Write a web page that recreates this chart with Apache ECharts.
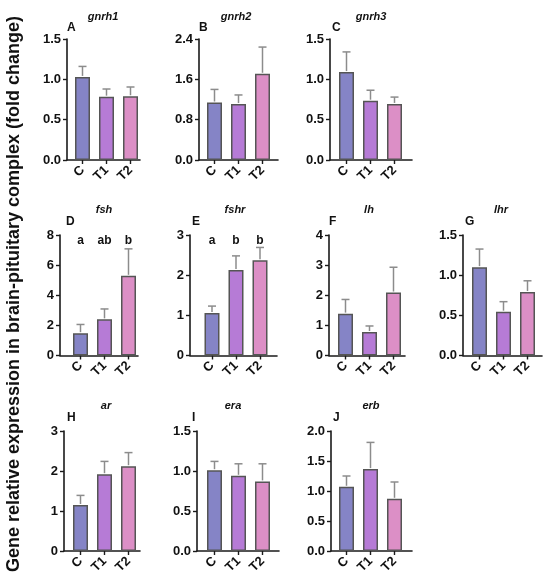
<!DOCTYPE html>
<html>
<head>
<meta charset="utf-8">
<style>
  html, body { margin: 0; padding: 0; background: #fff; }
  #main { width: 550px; height: 585px; }
</style>
<script src="https://cdn.jsdelivr.net/npm/echarts@6/dist/echarts.min.js"></script>
</head>
<body>
<div id="main"></div>
<script>
    // groups and genes
    var groups = ['C', 'T1', 'T2'];
    var genes = ['gnrh1', 'gnrh2', 'gnrh3', 'fsh', 'fshr', 'lh', 'lhr', 'ar', 'era', 'erb'];
    var panelLetters = ['A', 'B', 'C', 'D', 'E', 'F', 'G', 'H', 'I', 'J'];

    // mean fold change per group (C, T1, T2)
    var gnrh1Mean = [1.03, 0.785, 0.79];
    var gnrh2Mean = [1.14, 1.11, 1.71];
    var gnrh3Mean = [1.09, 0.735, 0.695];
    var fshMean = [1.48, 2.40, 5.29];
    var fshrMean = [1.06, 2.13, 2.37];
    var lhMean = [1.39, 0.78, 2.09];
    var lhrMean = [1.10, 0.545, 0.79];
    var arMean = [1.15, 1.92, 2.12];
    var eraMean = [1.01, 0.94, 0.87];
    var erbMean = [1.07, 1.365, 0.87];

    // upper error bar length (SEM)
    var gnrh1Sem = [0.13, 0.095, 0.115];
    var gnrh2Sem = [0.26, 0.18, 0.53];
    var gnrh3Sem = [0.25, 0.13, 0.085];
    var fshSem = [0.58, 0.69, 1.79];
    var fshrSem = [0.17, 0.35, 0.32];
    var lhSem = [0.47, 0.20, 0.84];
    var lhrSem = [0.225, 0.125, 0.14];
    var arSem = [0.24, 0.32, 0.34];
    var eraSem = [0.11, 0.15, 0.22];
    var erbSem = [0.18, 0.445, 0.28];

    // significance letters
    var fshSig = ['a', 'ab', 'b'];
    var fshrSig = ['a', 'b', 'b'];

    // y axis ticks
    var yMax = [1.5, 2.4, 1.5, 8, 3, 4, 1.5, 3, 1.5, 2.0];
    var yStep = [0.5, 0.8, 0.5, 2, 1, 1, 0.5, 1, 0.5, 0.5];
    var yDecimals = [1, 1, 1, 0, 0, 0, 1, 0, 1, 1];

    var means = [gnrh1Mean, gnrh2Mean, gnrh3Mean, fshMean, fshrMean, lhMean, lhrMean, arMean, eraMean, erbMean];
    var sems = [gnrh1Sem, gnrh2Sem, gnrh3Sem, fshSem, fshrSem, lhSem, lhrSem, arSem, eraSem, erbSem];
    var sigs = {3: fshSig, 4: fshrSig};

    // layout (px)
    var BAND = 24;
    var axisX = [67, 199, 330, 60, 190, 329, 463, 64, 197, 331];
    var axisEnd = [140, 278, 412, 138, 277, 405, 542, 140, 279, 412];
    var firstCenter = [82.5, 214.5, 346.5, 80.5, 212, 345.5, 479.5, 80.5, 214.5, 346.5];
    var rowTop = [39, 39, 39, 235, 235, 235, 235, 431, 431, 431];
    var rowHeight = [121, 121, 121, 120.5, 120.5, 120.5, 120.5, 120, 120, 120];
    var titleX = [103, 236, 371, 104, 235, 369, 501, 106, 233, 371];
    var titleY = [17, 17, 17, 210, 210, 210, 210, 406, 406, 406];
    var letterX = [67, 199, 332, 66, 192, 329, 465, 67, 192, 333];
    var letterY = [28, 28, 28, 222, 222, 222, 222, 418, 418, 418];

    var colors = ['#8584c6', '#b67bd6', '#dc8fc6'];
    var FONT = '"Liberation Sans", Arial, sans-serif';
    var AXIS = '#1a1a1a';

    var grids = [], xAxes = [], yAxes = [], series = [], graphics = [];

    genes.forEach(function (gene, k) {
        var pad = (firstCenter[k] - axisX[k]) / BAND;
        var pos = groups.map(function (g, i) { return pad + i; });
        var dec = yDecimals[k];

        grids.push({
            left: axisX[k], top: rowTop[k],
            width: axisEnd[k] - axisX[k], height: rowHeight[k],
            containLabel: false, outerBoundsMode: 'none'
        });
        xAxes.push({
            type: 'value', gridIndex: k, min: 0, max: (axisEnd[k] - axisX[k]) / BAND,
            axisLine: {show: true, onZero: false, lineStyle: {color: AXIS, width: 1.6}},
            axisTick: {show: true, customValues: pos, length: 4, lineStyle: {color: AXIS, width: 1.4}},
            splitLine: {show: false},
            axisLabel: {
                customValues: pos, rotate: 45, margin: 8,
                color: '#111', fontFamily: FONT, fontWeight: 'bold', fontSize: 13,
                formatter: function (v) { return groups[Math.round(v - pad)]; }
            }
        });
        yAxes.push({
            type: 'value', gridIndex: k, min: 0, max: yMax[k], interval: yStep[k],
            axisLine: {show: true, lineStyle: {color: AXIS, width: 1.6}},
            axisTick: {show: true, length: 4, lineStyle: {color: AXIS, width: 1.4}},
            splitLine: {show: false},
            axisLabel: {
                margin: 6, color: '#111', fontFamily: FONT, fontWeight: 'bold', fontSize: 13,
                formatter: function (v) { return v.toFixed(dec); }
            }
        });

        series.push({
            type: 'bar', xAxisIndex: k, yAxisIndex: k, barWidth: 15,
            itemStyle: {borderColor: '#555', borderWidth: 1.5},
            data: means[k].map(function (v, i) {
                return {value: [pos[i], v], itemStyle: {color: colors[i]}};
            }),
            z: 2
        });

        series.push({
            type: 'custom', xAxisIndex: k, yAxisIndex: k, z: 3,
            data: means[k].map(function (v, i) { return [pos[i], v, v + sems[k][i]]; }),
            renderItem: function (params, api) {
                var base = api.coord([api.value(0), api.value(1)]);
                var top = api.coord([api.value(0), api.value(2)]);
                var st = {stroke: '#8c8c8c', lineWidth: 1.5};
                return {
                    type: 'group', children: [
                        {type: 'line', shape: {x1: base[0], y1: base[1] - 1, x2: top[0], y2: top[1]}, style: st},
                        {type: 'line', shape: {x1: top[0] - 4, y1: top[1], x2: top[0] + 4, y2: top[1]}, style: st}
                    ]
                };
            }
        });

        if (sigs[k]) {
            var sig = sigs[k];
            series.push({
                type: 'custom', xAxisIndex: k, yAxisIndex: k, z: 4,
                data: pos.map(function (p) { return [p, yMax[k]]; }),
                renderItem: function (params, api) {
                    var pt = api.coord([api.value(0), api.value(1)]);
                    return {
                        type: 'text', x: pt[0], y: pt[1] + 6,
                        style: {
                            text: sig[params.dataIndex], align: 'center', verticalAlign: 'middle',
                            font: 'bold 12px ' + FONT, fill: '#111'
                        }
                    };
                }
            });
        }

        graphics.push({
            type: 'text', x: titleX[k], y: titleY[k],
            style: {
                text: gene, align: 'center', verticalAlign: 'middle',
                font: 'italic bold 11px ' + FONT, fill: '#111'
            }
        });
        graphics.push({
            type: 'text', x: letterX[k], y: letterY[k],
            style: {
                text: panelLetters[k], align: 'left', verticalAlign: 'middle',
                font: 'bold 12px ' + FONT, fill: '#111'
            }
        });
    });

    graphics.push({
        type: 'text', x: 14, y: 294, rotation: Math.PI / 2,
        style: {
            text: 'Gene relative expression in brain-pituitary complex (fold change)',
            align: 'center', verticalAlign: 'middle',
            font: 'bold 18px ' + FONT, fill: '#111'
        }
    });

    var myChart = echarts.init(document.getElementById('main'));
    myChart.setOption({
        backgroundColor: '#fff',
        animation: false,
        grid: grids,
        xAxis: xAxes,
        yAxis: yAxes,
        series: series,
        graphic: graphics
    });
</script>
</body>
</html>
